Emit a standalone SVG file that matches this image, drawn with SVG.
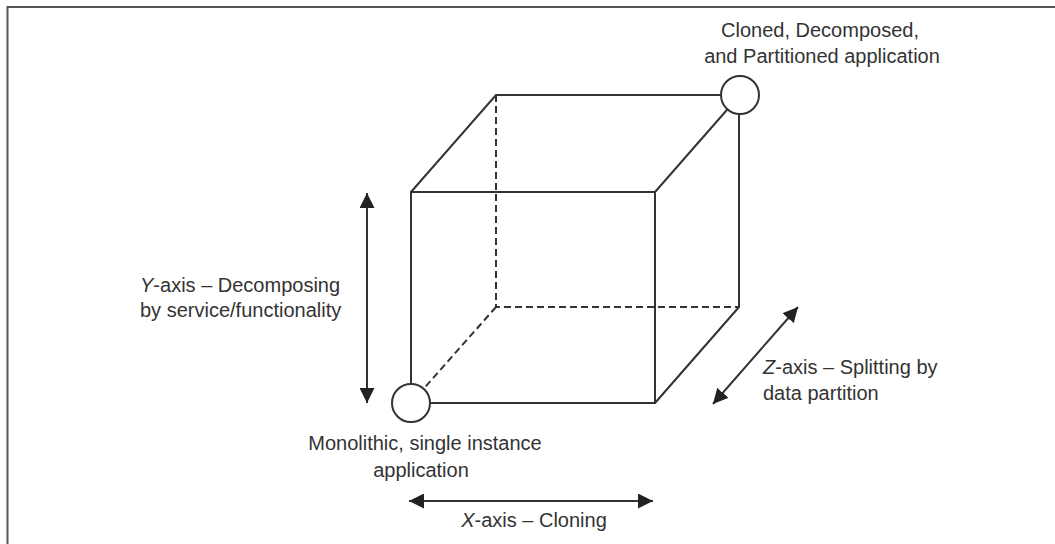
<svg xmlns="http://www.w3.org/2000/svg" width="1055" height="544" viewBox="0 0 1055 544">
<style>
.ln{stroke:#333;stroke-width:2;fill:none}
.ds{stroke:#333;stroke-width:2;fill:none;stroke-dasharray:7 4}
.nd{stroke:#333;stroke-width:2;fill:#fff}
.ar{stroke:#333;stroke-width:2;fill:none;marker-start:url(#ah);marker-end:url(#ah)}
text{font-family:"Liberation Sans",Arial,sans-serif;font-size:20px;fill:#333}
.c{text-anchor:middle}
</style>
<defs>
<marker id="ah" markerUnits="userSpaceOnUse" markerWidth="15" markerHeight="15" refX="14" refY="7" orient="auto-start-reverse" viewBox="0 0 14 14">
<path d="M0,0 L14,7 L0,14 z" fill="#222"/>
</marker>
</defs>
<rect width="1055" height="544" fill="#fff"/>
<g id="frame">
<path d="M7.5,544 V7 H1055" stroke="#555" stroke-width="2" fill="none"/>
</g>
<g id="cube">
<path class="ds" d="M496,95 V307 H739"/>
<path class="ds" d="M496,307 L411,403"/>
<rect class="ln" x="411" y="192" width="244" height="211"/>
<path class="ln" d="M411,192 L496,95 H740"/>
<path class="ln" d="M655,192 L740,95"/>
<path class="ln" d="M739,95 V307 L655,403"/>
</g>
<g id="connectors">
<line class="ar" x1="367" y1="193" x2="367" y2="403"/>
<line class="ar" x1="409" y1="501" x2="653" y2="501"/>
<line class="ar" x1="713" y1="404" x2="798" y2="307"/>
</g>
<g id="node-monolithic">
<circle class="nd" cx="411" cy="403" r="19"/>
<text class="c" x="425" y="450">Monolithic, single instance</text>
<text class="c" x="421" y="477">application</text>
</g>
<g id="node-cloned">
<circle class="nd" cx="740" cy="95" r="19"/>
<text class="c" x="820" y="37">Cloned, Decomposed,</text>
<text class="c" x="822" y="63">and Partitioned application</text>
</g>
<g id="label-y">
<text x="140" y="292"><tspan font-style="italic">Y</tspan>-axis – Decomposing</text>
<text x="140" y="317">by service/functionality</text>
</g>
<g id="label-x">
<text class="c" x="534" y="527"><tspan font-style="italic">X</tspan>-axis – Cloning</text>
</g>
<g id="label-z">
<text x="763" y="374"><tspan font-style="italic">Z</tspan>-axis – Splitting by</text>
<text x="763" y="400">data partition</text>
</g>
</svg>
